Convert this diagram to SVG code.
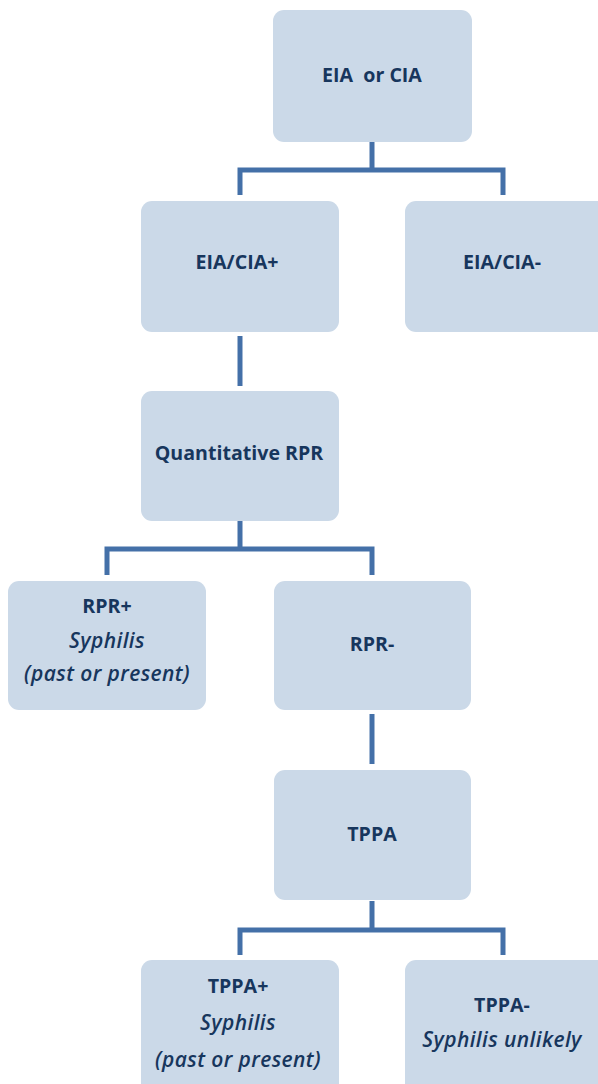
<svg xmlns="http://www.w3.org/2000/svg" width="598" height="1084" viewBox="0 0 598 1084">
<style>
.box{fill:#CBD9E8;}
.t{font-family:"Open Sans","Liberation Sans",sans-serif;fill:#17365D;text-anchor:middle;}
.b{font-weight:bold;font-size:19.6px;}
.i{font-style:italic;font-weight:600;font-size:21px;letter-spacing:0.4px;}
.c{fill:none;stroke:#4470A8;stroke-width:5;stroke-linecap:butt;stroke-linejoin:miter;}
</style>
<rect width="598" height="1084" fill="#FFFFFF"/>
<g id="connectors">
<path class="c" d="M372 142 V170 M240 195 V170 H503 V195"/>
<path class="c" d="M240 336 V386"/>
<path class="c" d="M240 521 V549 M107 575 V549 H372 V575"/>
<path class="c" d="M372 714 V764"/>
<path class="c" d="M372 901 V930 M240 955 V930 H503 V955"/>
</g>
<g id="n_eia_cia"><rect class="box" x="273" y="10" width="199" height="132" rx="11"/><text class="t b" x="372" y="82" xml:space="preserve">EIA  or CIA</text></g>
<g id="n_pos"><rect class="box" x="141" y="201" width="198" height="131" rx="11"/><text class="t b" x="237" y="269">EIA/CIA+</text></g>
<g id="n_neg"><rect class="box" x="405" y="201" width="205" height="131" rx="11"/><text class="t b" x="502" y="269">EIA/CIA-</text></g>
<g id="n_qrpr"><rect class="box" x="141" y="391" width="198" height="130" rx="11"/><text class="t b" x="239" y="460">Quantitative RPR</text></g>
<g id="n_rprpos"><rect class="box" x="8" y="581" width="198" height="129" rx="11"/><text class="t b" x="107" y="613">RPR+</text><text class="t i" x="107" y="648">Syphilis</text><text class="t i" x="107" y="681">(past or present)</text></g>
<g id="n_rprneg"><rect class="box" x="274" y="581" width="197" height="129" rx="11"/><text class="t b" x="372" y="651">RPR-</text></g>
<g id="n_tppa"><rect class="box" x="274" y="770" width="197" height="130" rx="11"/><text class="t b" x="372" y="841">TPPA</text></g>
<g id="n_tppapos"><rect class="box" x="141" y="960" width="198" height="140" rx="11"/><text class="t b" x="238" y="993">TPPA+</text><text class="t i" x="238" y="1030">Syphilis</text><text class="t i" x="238" y="1067">(past or present)</text></g>
<g id="n_tppaneg"><rect class="box" x="405" y="960" width="205" height="140" rx="11"/><text class="t b" x="502" y="1012">TPPA-</text><text class="t i" x="502" y="1047">Syphilis unlikely</text></g>
</svg>
